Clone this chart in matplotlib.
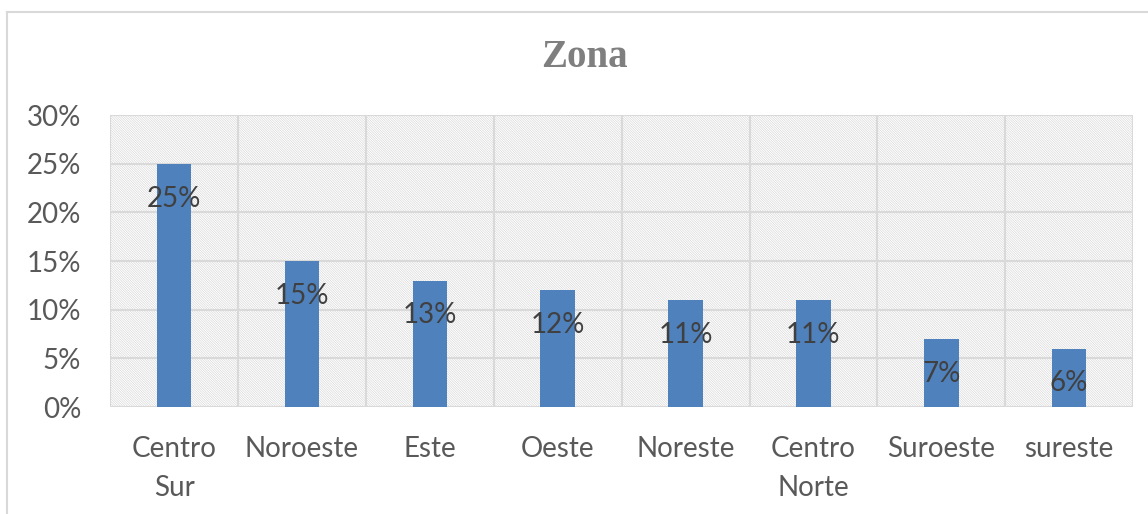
import matplotlib.pyplot as plt
from matplotlib.patches import Rectangle
from matplotlib.lines import Line2D

# datos
zonas = ["Centro\nSur", "Noroeste", "Este", "Oeste", "Noreste", "Centro\nNorte", "Suroeste", "sureste"]
porcentajes = [0.25, 0.15, 0.13, 0.12, 0.11, 0.11, 0.07, 0.06]
etiquetas = ["25%", "15%", "13%", "12%", "11%", "11%", "7%", "6%"]
ticks_y = [0, 0.05, 0.10, 0.15, 0.20, 0.25, 0.30]
ticks_y_txt = ["0%", "5%", "10%", "15%", "20%", "25%", "30%"]

plt.rcParams['font.family'] = ['Lato', 'DejaVu Sans']
plt.rcParams['hatch.linewidth'] = 0.45
plt.rcParams['hatch.color'] = '#D6D6D6'

fig = plt.figure(figsize=(11.48, 5.14), dpi=100)
ax = fig.add_axes([0.096, 0.208, 0.891, 0.568])

# marco exterior
fig.add_artist(Line2D([0.0065, 0.0065], [0.0, 0.977], color='#D9D9D9', lw=1.5, transform=fig.transFigure))
fig.add_artist(Line2D([0.0065, 1.0], [0.977, 0.977], color='#D9D9D9', lw=1.5, transform=fig.transFigure))

# fondo rayado
ax.add_patch(Rectangle((0, 0), 1, 1, transform=ax.transAxes, facecolor='white',
                       edgecolor='#D6D6D6', hatch='\\' * 14, lw=0, zorder=0))

x = list(range(len(zonas)))
ax.bar(x, porcentajes, width=0.27, color='#4F81BD', zorder=3)

for xi, v, t in zip(x, porcentajes, etiquetas):
    ax.annotate(t, (xi, v), xytext=(0, -25), textcoords='offset points',
                ha='center', va='center', fontsize=20, color='#404040', zorder=4)

ax.set_xlim(-0.5, len(zonas) - 0.5)
ax.set_ylim(0, 0.30)
ax.set_yticks(ticks_y)
ax.set_yticklabels(ticks_y_txt)
ax.set_xticks(x)
ax.set_xticklabels(zonas, linespacing=1.6)

# rejilla
for b in [i - 0.5 for i in range(len(zonas) + 1)]:
    ax.axvline(b, color='#D9D9D9', lw=1.5, zorder=1)
for t in ticks_y:
    ax.axhline(t, color='#D9D9D9', lw=1.5, zorder=1)

for s in ax.spines.values():
    s.set_visible(False)

ax.tick_params(axis='both', length=0, labelsize=20, colors='#595959')
ax.tick_params(axis='x', pad=21)
ax.tick_params(axis='y', pad=21)

fig.text(0.509, 0.889, "Zona", ha='center', va='center', fontsize=28, fontweight='bold',
         color='#7F7F7F', family=['Liberation Serif', 'DejaVu Serif'])

fig.savefig('out.png', dpi=100)
